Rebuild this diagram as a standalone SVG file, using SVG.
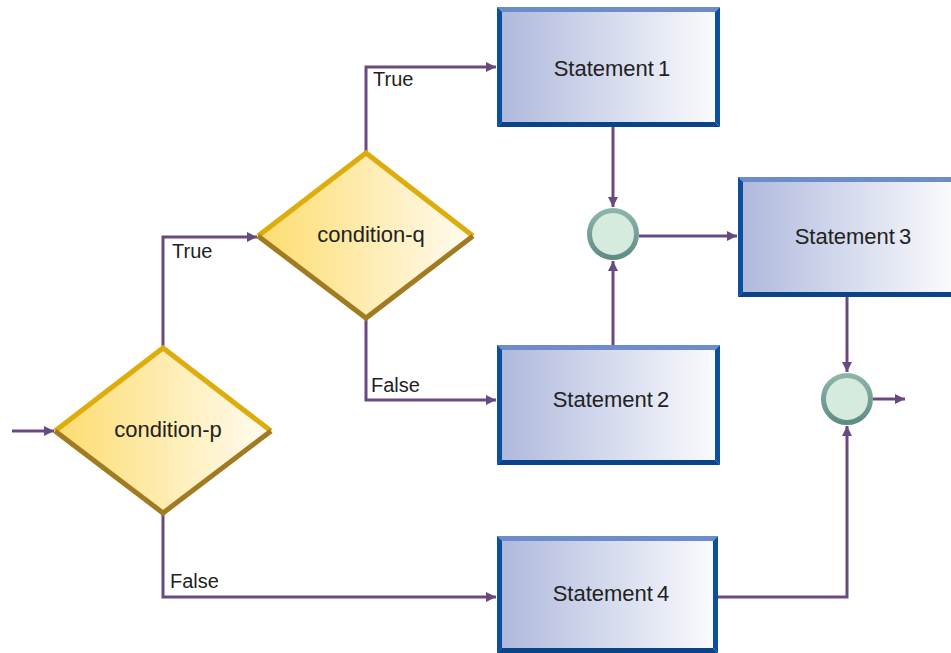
<svg xmlns="http://www.w3.org/2000/svg" width="951" height="653" viewBox="0 0 951 653">
<defs>
<linearGradient id="boxg" x1="0" y1="0" x2="1" y2="0">
<stop offset="0" stop-color="#aeb8dc"/>
<stop offset="1" stop-color="#fbfcfe"/>
</linearGradient>
<linearGradient id="dg" x1="0" y1="0" x2="1" y2="0">
<stop offset="0" stop-color="#fddc6e"/>
<stop offset="1" stop-color="#fffcf2"/>
</linearGradient>
<linearGradient id="ring" x1="0" y1="0" x2="0" y2="1">
<stop offset="0" stop-color="#8cb5aa"/>
<stop offset="1" stop-color="#5f8c86"/>
</linearGradient>
<marker id="ah" viewBox="0 0 10 10" refX="10" refY="5" markerWidth="11" markerHeight="10" markerUnits="userSpaceOnUse" orient="auto">
<path d="M0,0 L10,5 L0,10 z" fill="#694a80"/>
</marker>
</defs>
<style>
.c{fill:none;stroke:#694a80;stroke-width:3;marker-end:url(#ah)}
.t{font-family:"Liberation Sans",Arial,sans-serif;font-size:22px;fill:#222;text-anchor:middle}
.s{word-spacing:-2px}
.l{font-family:"Liberation Sans",Arial,sans-serif;font-size:20px;fill:#222}
.bt{fill:#6c8cca}
.bs{fill:#0b4f9e}
.bb{fill:#0a4488}
.dtop{fill:none;stroke:#dcad0c;stroke-width:5;stroke-linejoin:miter}
.dbot{fill:none;stroke:#a07b22;stroke-width:5;stroke-linejoin:miter}
</style>
<rect width="951" height="653" fill="#fff"/>

<g id="connectors">
<path class="c" d="M12,431 H54"/>
<path class="c" d="M163,348 V237 H257"/>
<path class="c" d="M163,513 V597 H496"/>
<path class="c" d="M366,153 V67 H496"/>
<path class="c" d="M366,318 V400 H496"/>
<path class="c" d="M613,127 V207"/>
<path class="c" d="M613,345 V261"/>
<path class="c" d="M639,236 H737"/>
<path class="c" d="M847,297 V372"/>
<path class="c" d="M718,597 H847 V426"/>
<path class="c" d="M873,399 H905"/>
</g>
<g id="edge-labels">
<text class="l" x="172" y="258">True</text>
<text class="l" x="170" y="588">False</text>
<text class="l" x="373" y="86">True</text>
<text class="l" x="371" y="392">False</text>
</g>

<g id="condition-p">
<polygon points="163,348 271,431 163,513 55,431" fill="url(#dg)"/>
<polyline class="dtop" points="55,431 163,348 271,431"/>
<polyline class="dbot" points="55,431 163,513 271,431"/>
<text class="t" x="168" y="437">condition-p</text>
</g>

<g id="condition-q">
<polygon points="366,153 473,236 366,318 258,236" fill="url(#dg)"/>
<polyline class="dtop" points="258,236 366,153 473,236"/>
<polyline class="dbot" points="258,236 366,318 473,236"/>
<text class="t" x="371" y="242">condition-q</text>
</g>

<g id="statement1">
<rect x="497" y="7" width="223" height="120" fill="url(#boxg)"/>
<polygon class="bt" points="497,7 720,7 715,12 502,12"/>
<polygon class="bs" points="497,7 502,12 502,122 497,127"/>
<polygon class="bs" points="720,7 720,127 715,122 715,12"/>
<polygon class="bb" points="497,127 502,122 715,122 720,127"/>
<text class="t s" x="612" y="76">Statement 1</text>
</g>

<g id="statement2">
<rect x="497" y="345" width="223" height="120" fill="url(#boxg)"/>
<polygon class="bt" points="497,345 720,345 715,350 502,350"/>
<polygon class="bs" points="497,345 502,350 502,460 497,465"/>
<polygon class="bs" points="720,345 720,465 715,460 715,350"/>
<polygon class="bb" points="497,465 502,460 715,460 720,465"/>
<text class="t s" x="611" y="407">Statement 2</text>
</g>

<g id="statement3">
<rect x="738" y="177" width="218" height="120" fill="url(#boxg)"/>
<polygon class="bt" points="738,177 956,177 951,182 743,182"/>
<polygon class="bs" points="738,177 743,182 743,292 738,297"/>
<polygon class="bb" points="738,297 743,292 951,292 956,297"/>
<text class="t s" x="853" y="244">Statement 3</text>
</g>

<g id="statement4">
<rect x="497" y="536" width="221" height="117" fill="url(#boxg)"/>
<polygon class="bt" points="497,536 718,536 713,541 502,541"/>
<polygon class="bs" points="497,536 502,541 502,648 497,653"/>
<polygon class="bs" points="718,536 718,653 713,648 713,541"/>
<polygon class="bb" points="497,653 502,648 713,648 718,653"/>
<text class="t s" x="611" y="601">Statement 4</text>
</g>

<g id="junction1">
<circle cx="613" cy="234" r="23.5" fill="#d6eadd" stroke="url(#ring)" stroke-width="5"/>
</g>
<g id="junction2">
<circle cx="847" cy="399" r="23.5" fill="#d6eadd" stroke="url(#ring)" stroke-width="5"/>
</g>
</svg>
